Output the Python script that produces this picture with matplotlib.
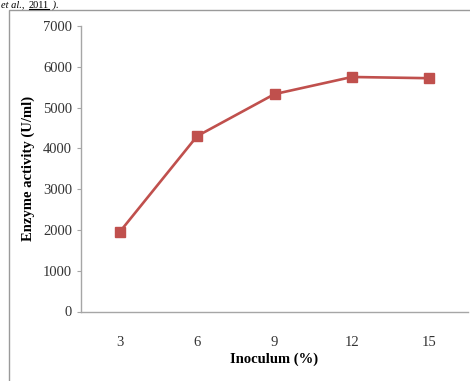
import matplotlib
matplotlib.use("Agg")
import matplotlib.pyplot as plt
from matplotlib.patches import Rectangle
from matplotlib.lines import Line2D

# Inoculum size (%) vs. enzyme activity
inoculum = ["3", "6", "9", "12", "15"]
activity = [1950, 4300, 5330, 5750, 5720]
y_ticks = [0, 1000, 2000, 3000, 4000, 5000, 6000, 7000]

W, H, DPI = 470, 381, 100
fig = plt.figure(figsize=(W / DPI, H / DPI), dpi=DPI)
fig.patch.set_facecolor("white")

serif = ["Liberation Serif", "DejaVu Serif"]
grey = "#a6a6a6"
red = "#c0504d"

# surrounding chart-area border
fig.add_artist(Rectangle((9 / W, -0.05), 1.2, (H - 10) / H + 0.05,
                         transform=fig.transFigure, fill=False,
                         edgecolor="#9a9a9a", linewidth=1.0))

# caption line running above the chart, pieces laid out left to right
renderer = fig.canvas.get_renderer()
base = (H - 7.5) / H
x_px = 1.0
pieces = [("et al., ", "italic", False), ("2011", "normal", True),
          (" ).", "italic", False)]
for txt, sty, underline in pieces:
    t = fig.text(x_px / W, base, txt, fontsize=7.5, family=serif,
                 style=sty, va="baseline", ha="left")
    bb = t.get_window_extent(renderer)
    if underline:
        fig.add_artist(Line2D([bb.x0 / W, bb.x1 / W], [(H - 8.8) / H] * 2,
                              transform=fig.transFigure, color="black",
                              linewidth=0.8))
    x_px = bb.x1 + 1.5

ax = fig.add_axes([81 / W, (H - 311.5) / H, (468 - 81) / W, (311.5 - 26) / H])
x = list(range(len(inoculum)))
ax.plot(x, activity, color=red, linewidth=1.9, marker="s",
        markersize=7.2, markerfacecolor=red, markeredgecolor=red)

ax.set_xlim(-0.5, len(inoculum) - 0.5)
ax.set_ylim(0, 7000)
ax.set_xticks(x)
ax.set_xticklabels(inoculum)
ax.set_yticks(y_ticks)
ax.set_yticklabels([str(v) for v in y_ticks])

for side in ("top", "right"):
    ax.spines[side].set_visible(False)
for side in ("left", "bottom"):
    ax.spines[side].set_color(grey)
    ax.spines[side].set_linewidth(1.0)

ax.tick_params(axis="y", direction="out", length=3, width=0.8, color=grey,
               labelsize=10.5, pad=3.5)
ax.tick_params(axis="x", length=0, labelsize=10.5, pad=18)
for lab in ax.get_xticklabels() + ax.get_yticklabels():
    lab.set_family(serif)
    lab.set_color("#333333")

ax.set_xlabel("Inoculum (%)", fontsize=10.5, family=serif, fontweight="bold",
              labelpad=2)
ax.set_ylabel("Enzyme activity (U/ml)", fontsize=10.5, family=serif,
              fontweight="bold", labelpad=6)

fig.savefig("out.png", dpi=DPI)
